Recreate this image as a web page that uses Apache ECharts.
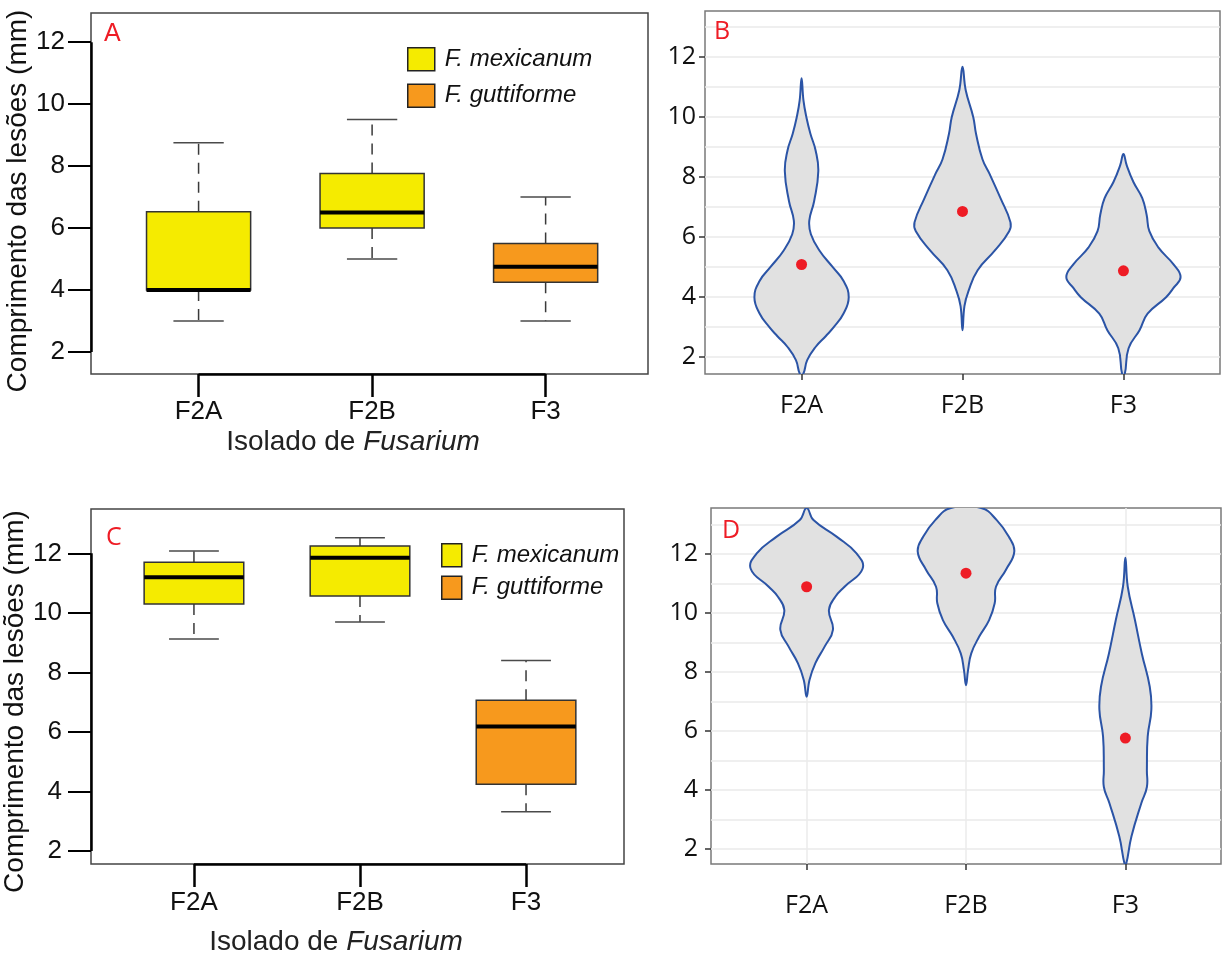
<!DOCTYPE html>
<html>
<head>
<meta charset="utf-8">
<script src="https://cdn.jsdelivr.net/npm/echarts@6/dist/echarts.min.js"></script>
<style>
  html, body { margin: 0; padding: 0; background: #fff; }
  #chart { width: 1222px; height: 954px; }
</style>
</head>
<body>
<div id="chart"></div>
<script>
// isolados e espécies
const isolados = ['F2A', 'F2B', 'F3'];
const especies = ['F. mexicanum', 'F. mexicanum', 'F. guttiforme'];
const posX = [1, 2, 3];

// boxplots: [mínimo, Q1, mediana, Q3, máximo]
const boxA = [[3.0, 4.0, 4.0, 6.53, 8.75], [5.0, 6.0, 6.5, 7.76, 9.5], [3.0, 4.25, 4.75, 5.5, 7.0]];
const boxC = [[9.12, 10.3, 11.2, 11.7, 12.08], [9.69, 10.57, 11.85, 12.25, 12.52], [3.32, 4.24, 6.18, 7.06, 8.4]];

// violinos: [comprimento, meia-largura]
const violinB_F2A = [[1.44, 0.01], [1.9, 0.035], [2.34, 0.087], [2.7, 0.15], [3.0, 0.2], [3.45, 0.26], [4.0, 0.293], [4.55, 0.26], [5.0, 0.194], [5.55, 0.112], [6.1, 0.058], [6.55, 0.048], [7.2, 0.078], [8.2, 0.104], [8.9, 0.087], [9.45, 0.055], [10.0, 0.03], [10.55, 0.012], [11.3, 0]];
const violinB_F2B = [[2.9, 0], [3.7, 0.012], [4.2, 0.037], [4.9, 0.094], [5.55, 0.2], [6.2, 0.29], [6.5, 0.298], [7.3, 0.236], [8.1, 0.169], [8.6, 0.124], [9.45, 0.084], [10.0, 0.067], [10.9, 0.02], [11.68, 0]];
const violinB_F3 = [[1.44, 0.008], [2.3, 0.032], [2.9, 0.1], [3.45, 0.15], [4.0, 0.265], [4.3, 0.31], [4.67, 0.355], [5.1, 0.31], [5.65, 0.218], [6.2, 0.161], [6.75, 0.144], [7.3, 0.117], [7.84, 0.062], [8.4, 0.02], [8.77, 0]];
const violinD_F2A = [[7.16, 0], [7.73, 0.018], [8.3, 0.055], [8.86, 0.113], [9.43, 0.165], [10.1, 0.14], [10.55, 0.18], [10.89, 0.238], [11.5, 0.351], [12.02, 0.313], [12.59, 0.188], [13.15, 0.043], [13.56, 0]];
const violinD_F2B = [[7.55, 0], [8.07, 0.013], [8.63, 0.033], [9.2, 0.083], [9.76, 0.145], [10.33, 0.18], [10.89, 0.188], [11.46, 0.25], [12.08, 0.303], [12.59, 0.268], [13.15, 0.193], [13.56, 0.095]];
const violinD_F3 = [[1.49, 0.005], [2.42, 0.038], [3.55, 0.1], [4.1, 0.135], [4.68, 0.135], [5.81, 0.14], [6.72, 0.163], [7.5, 0.153], [8.63, 0.103], [9.76, 0.06], [10.89, 0.015], [11.87, 0]];

// médias (ponto vermelho)
const mediasB = [5.09, 6.86, 4.88];
const mediasD = [10.89, 11.35, 5.76];

// eixos
const ticksY = [2, 4, 6, 8, 10, 12];
const gradeY = [2, 3, 4, 5, 6, 7, 8, 9, 10, 11, 12, 13];
const faixaXA = [0.38, 3.59], faixaYA = [1.29, 12.94];
const faixaXB = [0.4, 3.6], faixaYB = [1.44, 13.54];
const faixaXC = [0.38, 3.59], faixaYC = [1.56, 13.49];
const faixaXD = [0.4, 3.6], faixaYD = [1.49, 13.56];

const AMARELO = '#F5EB00';
const LARANJA = '#F7991D';
const VERMELHO = '#EE1C25';
const fonteR = 'Liberation Sans';
const fonteG = 'Open Sans';

const chart = echarts.init(document.getElementById('chart'));

// --- boxplot estilo R ---
function desenhaBox(meiaCaixa, meiaBarra) {
    return function (params, api) {
        const x = api.value(0);
        const lo = api.value(1), q1 = api.value(2), md = api.value(3), q3 = api.value(4), hi = api.value(5);
        const c = (a, b) => api.coord([a, b]);
        const cx = c(x, md)[0];
        const tl = c(x - meiaCaixa, q3), br = c(x + meiaCaixa, q1);
        const bigode = { stroke: '#3a3a3a', lineWidth: 1.5, lineDash: [11, 8] };
        const barra = { stroke: '#4a4a4a', lineWidth: 1.5 };
        return {
            type: 'group',
            children: [
                { type: 'line', shape: { x1: cx, y1: c(x, q3)[1], x2: cx, y2: c(x, hi)[1] }, style: bigode },
                { type: 'line', shape: { x1: cx, y1: c(x, q1)[1], x2: cx, y2: c(x, lo)[1] }, style: bigode },
                { type: 'line', shape: { x1: c(x - meiaBarra, hi)[0], y1: c(x, hi)[1], x2: c(x + meiaBarra, hi)[0], y2: c(x, hi)[1] }, style: barra },
                { type: 'line', shape: { x1: c(x - meiaBarra, lo)[0], y1: c(x, lo)[1], x2: c(x + meiaBarra, lo)[0], y2: c(x, lo)[1] }, style: barra },
                { type: 'rect', shape: { x: tl[0], y: tl[1], width: br[0] - tl[0], height: br[1] - tl[1] },
                  style: { fill: api.visual('color'), stroke: '#333', lineWidth: 1.5 } },
                { type: 'line', shape: { x1: tl[0], y1: c(x, md)[1], x2: br[0], y2: c(x, md)[1] }, style: { stroke: '#000', lineWidth: 4 } }
            ]
        };
    };
}

// --- violino ---
function desenhaViolino(perfis) {
    return function (params, api) {
        const x = api.value(0);
        const perfil = perfis[params.dataIndex];
        const dir = perfil.map(([v, w]) => api.coord([x + w, v]));
        const esq = perfil.slice().reverse().filter(([v, w]) => w > 0).map(([v, w]) => api.coord([x - w, v]));
        return {
            type: 'polygon',
            shape: { points: dir.concat(esq), smooth: 0.45 },
            style: { fill: '#E1E1E1', stroke: '#2B54A6', lineWidth: 2 }
        };
    };
}

function dadosBox(stats, esp) {
    return posX.map((x, i) => [x].concat(stats[i])).filter((d, i) => especies[i] === esp);
}

const nomeX = v => isolados[Math.round(v) - 1] || '';

function eixoXR(idx, faixa, margem) {
    return {
        type: 'value', gridIndex: idx, min: faixa[0], max: faixa[1],
        axisLine: { show: false },
        axisTick: { show: true, length: 23, customValues: posX, lineStyle: { color: '#000', width: 2.5 } },
        axisLabel: { customValues: posX, formatter: nomeX, margin: margem, fontSize: 26, fontFamily: fonteR, color: '#111' },
        splitLine: { show: false }
    };
}
function eixoYR(idx, faixa, margem, nomeGap, desloc) {
    return {
        type: 'value', gridIndex: idx, position: 'left', min: faixa[0], max: faixa[1],
        axisLine: { show: false },
        axisTick: { show: true, length: 23, customValues: ticksY, lineStyle: { color: '#000', width: 2 } },
        axisLabel: { customValues: ticksY, margin: margem, fontSize: 26, fontFamily: fonteR, color: '#111' },
        splitLine: { show: false },
        name: 'Comprimento das lesões (mm)', nameLocation: 'middle', nameGap: nomeGap,
        nameTextStyle: { fontSize: 28, fontFamily: fonteR, color: '#111', padding: [0, desloc, 0, 0] }
    };
}
function eixoXG(idx, faixa, margem, grade) {
    return {
        type: 'value', gridIndex: idx, min: faixa[0], max: faixa[1],
        axisLine: { show: false },
        axisTick: { show: true, length: 6, customValues: posX, lineStyle: { color: '#333', width: 1.5 } },
        axisLabel: { customValues: posX, formatter: nomeX, margin: margem, fontSize: 25, fontFamily: fonteG, color: '#111' },
        splitLine: { show: grade, lineStyle: { color: '#EBEBEB', width: 1.5 } }
    };
}
function eixoYGrade(idx, faixa) {
    return {
        type: 'value', gridIndex: idx, position: 'left', min: faixa[0], max: faixa[1],
        axisLine: { show: false },
        axisTick: { show: false, customValues: gradeY },
        axisLabel: { show: false },
        splitLine: { show: true, lineStyle: { color: '#EAEAEA', width: 1.5 } }
    };
}
function eixoYG(idx, faixa, margem) {
    return {
        type: 'value', gridIndex: idx, position: 'left', min: faixa[0], max: faixa[1],
        axisLine: { show: false },
        axisTick: { show: true, length: 6, customValues: ticksY, lineStyle: { color: '#333', width: 1.5 } },
        axisLabel: { customValues: ticksY, margin: margem, fontSize: 25, fontFamily: fonteG, color: '#111' },
        splitLine: { show: false }
    };
}

const nomeIsolado = (gap, desloc) => ({
    name: 'Isolado de {i|Fusarium}', nameLocation: 'middle', nameGap: gap,
    nameTextStyle: {
        fontSize: 28, fontFamily: fonteR, color: '#222', padding: [0, desloc, 0, 0],
        rich: { i: { fontSize: 28, fontFamily: fonteR, color: '#222', fontStyle: 'italic' } }
    }
});

const eixosR = (faixaX, faixaY) => ({
    silent: true, symbol: 'none', label: { show: false },
    lineStyle: { color: '#000', width: 2.5, type: 'solid' },
    emphasis: { disabled: true },
    data: [
        [{ coord: [faixaX[0], 2] }, { coord: [faixaX[0], 12] }],
        [{ coord: [1, faixaY[0]] }, { coord: [3, faixaY[0]] }]
    ]
});

const letra = (txt, left, top, fonte) => ({
    text: txt, left: left, top: top, padding: 0,
    textStyle: { color: VERMELHO, fontSize: 25, fontWeight: 'normal', fontFamily: fonte }
});

const legenda = (left, top, w, gap) => ({
    left: left, top: top, orient: 'vertical', padding: 0,
    itemWidth: w, itemHeight: 23, itemGap: gap, icon: 'rect', selectedMode: false,
    data: ['F. mexicanum', 'F. guttiforme'],
    itemStyle: { borderColor: '#222', borderWidth: 1.5 },
    textStyle: { fontSize: 24, fontStyle: 'italic', fontFamily: fonteR, color: '#111', padding: [0, 0, 0, 5] }
});

const option = {
    animation: false,
    backgroundColor: '#fff',
    textStyle: { fontFamily: fonteR },
    title: [
        letra('A', 104, 22, fonteR),
        letra('B', 714, 19, fonteG),
        letra('C', 106, 525, fonteG),
        letra('D', 722, 518, fonteG)
    ],
    legend: [legenda(407, 47, 27, 12), legenda(441, 543, 20, 8)],
    grid: [
        { left: 91, top: 13, width: 557, height: 361, show: true, borderColor: '#444', borderWidth: 1.5, outerBoundsMode: 'none' },
        { left: 705, top: 11, width: 515, height: 363, show: true, borderColor: '#7a7a7a', borderWidth: 1.5, outerBoundsMode: 'none' },
        { left: 91, top: 509, width: 533, height: 355, show: true, borderColor: '#444', borderWidth: 1.5, outerBoundsMode: 'none' },
        { left: 711, top: 508, width: 510, height: 356, show: true, borderColor: '#7a7a7a', borderWidth: 1.5, outerBoundsMode: 'none' }
    ],
    xAxis: [
        Object.assign(eixoXR(0, faixaXA, 25), nomeIsolado(54, 33)),
        eixoXG(1, faixaXB, 19, false),
        Object.assign(eixoXR(2, faixaXC, 26), nomeIsolado(64, 43)),
        eixoXG(3, faixaXD, 29, true)
    ],
    yAxis: [
        eixoYR(0, faixaYA, 26, 56, 15),
        eixoYGrade(1, faixaYB),
        eixoYG(1, faixaYB, 9),
        eixoYR(2, faixaYC, 29, 58, 30),
        eixoYGrade(3, faixaYD),
        eixoYG(3, faixaYD, 13)
    ],
    series: [
        { type: 'custom', name: 'F. mexicanum', xAxisIndex: 0, yAxisIndex: 0, itemStyle: { color: AMARELO },
          renderItem: desenhaBox(0.3, 0.145), data: dadosBox(boxA, 'F. mexicanum'), markLine: eixosR(faixaXA, faixaYA) },
        { type: 'custom', name: 'F. guttiforme', xAxisIndex: 0, yAxisIndex: 0, itemStyle: { color: LARANJA },
          renderItem: desenhaBox(0.3, 0.145), data: dadosBox(boxA, 'F. guttiforme') },
        { type: 'custom', name: 'F. mexicanum', xAxisIndex: 2, yAxisIndex: 3, itemStyle: { color: AMARELO },
          renderItem: desenhaBox(0.3, 0.15), data: dadosBox(boxC, 'F. mexicanum'), markLine: eixosR(faixaXC, faixaYC) },
        { type: 'custom', name: 'F. guttiforme', xAxisIndex: 2, yAxisIndex: 3, itemStyle: { color: LARANJA },
          renderItem: desenhaBox(0.3, 0.15), data: dadosBox(boxC, 'F. guttiforme') },
        { type: 'custom', name: 'violinoB', xAxisIndex: 1, yAxisIndex: 2, clip: true,
          renderItem: desenhaViolino([violinB_F2A, violinB_F2B, violinB_F3]), data: posX.map(x => [x]) },
        { type: 'scatter', name: 'mediaB', xAxisIndex: 1, yAxisIndex: 2, symbolSize: 11, z: 5,
          itemStyle: { color: VERMELHO, opacity: 1 }, data: posX.map((x, i) => [x, mediasB[i]]) },
        { type: 'custom', name: 'violinoD', xAxisIndex: 3, yAxisIndex: 5, clip: true,
          renderItem: desenhaViolino([violinD_F2A, violinD_F2B, violinD_F3]), data: posX.map(x => [x]) },
        { type: 'scatter', name: 'mediaD', xAxisIndex: 3, yAxisIndex: 5, symbolSize: 11, z: 5,
          itemStyle: { color: VERMELHO, opacity: 1 }, data: posX.map((x, i) => [x, mediasD[i]]) }
    ]
};

chart.setOption(option);
</script>
</body>
</html>
